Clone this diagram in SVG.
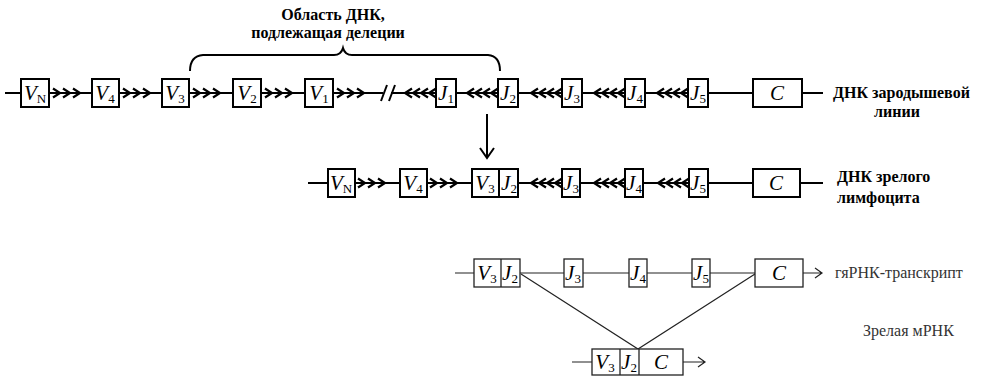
<svg xmlns="http://www.w3.org/2000/svg" width="989" height="377" viewBox="0 0 989 377">
<style>
.bx{fill:#fff;stroke:#000;stroke-width:2}
.bt{fill:#fff;stroke:#222;stroke-width:1.3}
.g{font-family:"Liberation Serif",serif;font-size:21px;fill:#000;text-anchor:middle}
.i{font-style:italic}
.s{font-size:13px}
.ln{stroke:#000;stroke-width:2;fill:none}
.lt{stroke:#222;stroke-width:1.2;fill:none}
.lab{font-family:"Liberation Serif",serif;font-weight:bold;font-size:16px;fill:#000}
.lab2{font-family:"Liberation Serif",serif;font-size:16px;fill:#333}
</style>
<defs>
<path id="r" d="M-4,-4.5 L3,0 L-4,4.5" fill="none" stroke="#000" stroke-width="2.2"/>
<path id="l" d="M4,-4.5 L-3,0 L4,4.5" fill="none" stroke="#000" stroke-width="2.2"/>
</defs>

<g id="title">
<text class="lab" x="333" y="20" text-anchor="middle">Область ДНК,</text>
<text class="lab" x="328" y="38" text-anchor="middle">подлежащая делеции</text>
</g>

<g id="connectors">
<path class="ln" d="M190,71 Q190,56 203,55 L334,55 Q341,55 343,48 Q345,55 352,55 L488,55 Q500,56 500,71"/>
<path class="ln" d="M5,93 H383 M391,93 H823"/>
<path class="ln" d="M381,101 L387,85 M389,101 L395,85"/>
<use href="#r" x="57" y="93"/><use href="#r" x="67" y="93"/><use href="#r" x="77" y="93"/>
<use href="#r" x="127" y="93"/><use href="#r" x="137" y="93"/><use href="#r" x="147" y="93"/>
<use href="#r" x="197" y="93"/><use href="#r" x="207" y="93"/><use href="#r" x="217" y="93"/>
<use href="#r" x="269" y="93"/><use href="#r" x="279" y="93"/><use href="#r" x="289" y="93"/>
<use href="#r" x="341" y="93"/><use href="#r" x="351" y="93"/><use href="#r" x="361" y="93"/>
<use href="#l" x="408" y="93"/><use href="#l" x="416" y="93"/><use href="#l" x="424" y="93"/><use href="#l" x="432" y="93"/>
<use href="#l" x="470" y="93"/><use href="#l" x="478" y="93"/><use href="#l" x="486" y="93"/><use href="#l" x="494" y="93"/>
<use href="#l" x="534" y="93"/><use href="#l" x="542" y="93"/><use href="#l" x="550" y="93"/><use href="#l" x="558" y="93"/>
<use href="#l" x="597" y="93"/><use href="#l" x="605" y="93"/><use href="#l" x="613" y="93"/><use href="#l" x="621" y="93"/>
<use href="#l" x="660" y="93"/><use href="#l" x="668" y="93"/><use href="#l" x="676" y="93"/><use href="#l" x="684" y="93"/>
<path class="ln" d="M487,114 V157 M480,148 L487,158 L494,148"/>
<path class="ln" d="M308,183 H823"/>
<use href="#r" x="362" y="183"/><use href="#r" x="372" y="183"/><use href="#r" x="382" y="183"/>
<use href="#r" x="434" y="183"/><use href="#r" x="444" y="183"/><use href="#r" x="454" y="183"/>
<use href="#l" x="534" y="183"/><use href="#l" x="542" y="183"/><use href="#l" x="550" y="183"/><use href="#l" x="558" y="183"/>
<use href="#l" x="597" y="183"/><use href="#l" x="605" y="183"/><use href="#l" x="613" y="183"/><use href="#l" x="621" y="183"/>
<use href="#l" x="661" y="183"/><use href="#l" x="669" y="183"/><use href="#l" x="677" y="183"/><use href="#l" x="685" y="183"/>
<path class="lt" d="M455,273 H755 M803,273 H822 M815,268 L822,273 L815,278"/>
<path class="lt" d="M521,274 L638,349 L755,274"/>
<path class="lt" d="M572,362 H592 M683,362 H705 M698,357 L705,362 L698,367"/>
</g>

<g id="row1">
<g id="r1-VN"><rect class="bx" x="21" y="79" width="28" height="28"/><text class="g" x="35" y="100"><tspan class="i">V</tspan><tspan class="s" dy="3">N</tspan></text></g>
<g id="r1-V4"><rect class="bx" x="92" y="79" width="27" height="28"/><text class="g" x="105" y="100"><tspan class="i">V</tspan><tspan class="s" dy="3">4</tspan></text></g>
<g id="r1-V3"><rect class="bx" x="162" y="79" width="27" height="28"/><text class="g" x="175" y="100"><tspan class="i">V</tspan><tspan class="s" dy="3">3</tspan></text></g>
<g id="r1-V2"><rect class="bx" x="233" y="79" width="28" height="28"/><text class="g" x="247" y="100"><tspan class="i">V</tspan><tspan class="s" dy="3">2</tspan></text></g>
<g id="r1-V1"><rect class="bx" x="305" y="79" width="28" height="28"/><text class="g" x="319" y="100"><tspan class="i">V</tspan><tspan class="s" dy="3">1</tspan></text></g>
<g id="r1-J1"><rect class="bx" x="436" y="79" width="20" height="28"/><text class="g" x="446" y="100"><tspan class="i">J</tspan><tspan class="s" dy="3">1</tspan></text></g>
<g id="r1-J2"><rect class="bx" x="498" y="79" width="20" height="28"/><text class="g" x="508" y="100"><tspan class="i">J</tspan><tspan class="s" dy="3">2</tspan></text></g>
<g id="r1-J3"><rect class="bx" x="562" y="79" width="20" height="28"/><text class="g" x="572" y="100"><tspan class="i">J</tspan><tspan class="s" dy="3">3</tspan></text></g>
<g id="r1-J4"><rect class="bx" x="625" y="79" width="20" height="28"/><text class="g" x="635" y="100"><tspan class="i">J</tspan><tspan class="s" dy="3">4</tspan></text></g>
<g id="r1-J5"><rect class="bx" x="688" y="79" width="20" height="28"/><text class="g" x="698" y="100"><tspan class="i">J</tspan><tspan class="s" dy="3">5</tspan></text></g>
<g id="r1-C"><rect class="bx" x="753" y="79" width="49" height="28"/><text class="g i" x="777" y="100">C</text></g>
<text class="lab" x="833" y="98" font-size="17">ДНК зародышевой</text>
<text class="lab" x="897" y="117" text-anchor="middle">линии</text>
</g>

<g id="row2">
<g id="r2-VN"><rect class="bx" x="328" y="169" width="27" height="28"/><text class="g" x="341" y="190"><tspan class="i">V</tspan><tspan class="s" dy="3">N</tspan></text></g>
<g id="r2-V4"><rect class="bx" x="400" y="169" width="27" height="28"/><text class="g" x="413" y="190"><tspan class="i">V</tspan><tspan class="s" dy="3">4</tspan></text></g>
<g id="r2-V3J2"><rect class="bx" x="472" y="169" width="46" height="28"/><line x1="499" y1="169" x2="499" y2="197" stroke="#000" stroke-width="2"/><text class="g" x="485" y="190"><tspan class="i">V</tspan><tspan class="s" dy="3">3</tspan></text><text class="g" x="509" y="190"><tspan class="i">J</tspan><tspan class="s" dy="3">2</tspan></text></g>
<g id="r2-J3"><rect class="bx" x="562" y="169" width="18" height="28"/><text class="g" x="571" y="190"><tspan class="i">J</tspan><tspan class="s" dy="3">3</tspan></text></g>
<g id="r2-J4"><rect class="bx" x="625" y="169" width="18" height="28"/><text class="g" x="634" y="190"><tspan class="i">J</tspan><tspan class="s" dy="3">4</tspan></text></g>
<g id="r2-J5"><rect class="bx" x="689" y="169" width="19" height="28"/><text class="g" x="698" y="190"><tspan class="i">J</tspan><tspan class="s" dy="3">5</tspan></text></g>
<g id="r2-C"><rect class="bx" x="753" y="169" width="47" height="28"/><text class="g i" x="776" y="190">C</text></g>
<text class="lab" x="837" y="182">ДНК зрелого</text>
<text class="lab" x="837" y="203">лимфоцита</text>
</g>

<g id="row3">
<g id="r3-V3J2"><rect class="bt" x="474" y="259" width="46" height="28"/><line x1="501" y1="259" x2="501" y2="287" stroke="#222" stroke-width="1.3"/><text class="g" x="487" y="280"><tspan class="i">V</tspan><tspan class="s" dy="3">3</tspan></text><text class="g" x="510" y="280"><tspan class="i">J</tspan><tspan class="s" dy="3">2</tspan></text></g>
<g id="r3-J3"><rect class="bt" x="564" y="259" width="19" height="28"/><text class="g" x="573" y="280"><tspan class="i">J</tspan><tspan class="s" dy="3">3</tspan></text></g>
<g id="r3-J4"><rect class="bt" x="629" y="259" width="18" height="28"/><text class="g" x="638" y="280"><tspan class="i">J</tspan><tspan class="s" dy="3">4</tspan></text></g>
<g id="r3-J5"><rect class="bt" x="692" y="259" width="18" height="28"/><text class="g" x="701" y="280"><tspan class="i">J</tspan><tspan class="s" dy="3">5</tspan></text></g>
<g id="r3-C"><rect class="bt" x="755" y="259" width="48" height="28"/><text class="g i" x="779" y="280">C</text></g>
<text class="lab2" x="835" y="278">гяРНК-транскрипт</text>
</g>

<g id="row4">
<g id="r4-V3J2C"><rect class="bt" x="592" y="349" width="91" height="26"/><line x1="620" y1="349" x2="620" y2="375" stroke="#222" stroke-width="1.3"/><line x1="639" y1="349" x2="639" y2="375" stroke="#222" stroke-width="1.3"/><text class="g" x="605" y="369"><tspan class="i">V</tspan><tspan class="s" dy="3">3</tspan></text><text class="g" x="629" y="369"><tspan class="i">J</tspan><tspan class="s" dy="3">2</tspan></text><text class="g i" x="661" y="369">C</text></g>
<text class="lab2" x="863" y="336" font-size="15">Зрелая мРНК</text>
</g>
</svg>
